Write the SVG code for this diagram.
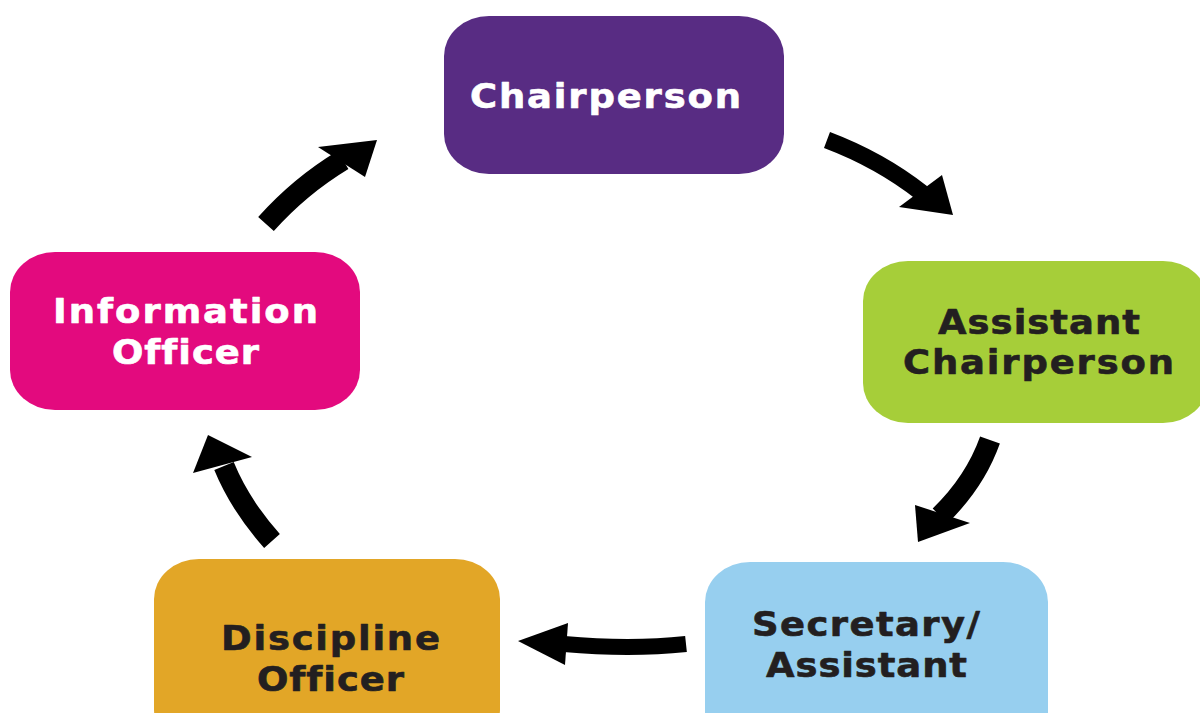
<svg xmlns="http://www.w3.org/2000/svg" width="1200" height="713" viewBox="0 0 1200 713">
  <style>
    .box { stroke: none; }
    .lbl { font-family: "DejaVu Sans", "Liberation Sans", sans-serif; font-weight: bold; font-size: 33px; text-anchor: middle; font-variant-ligatures: none; stroke-width: 0.6; stroke-linejoin: round; }
    .light { fill: #ffffff; stroke: #ffffff; }
    .dark { fill: #231f20; stroke: #231f20; }
    .shaft { fill: none; stroke: #000000; stroke-linecap: butt; }
    .head { fill: #000000; }
  </style>
  <rect width="1200" height="713" fill="#ffffff"/>

  <!-- labels are widened a little with scale(1.12,1); textLength is in the unscaled units -->
  <g id="chairperson">
    <rect class="box" x="444" y="16" width="340" height="158" rx="45" ry="40" fill="#582c83"/>
    <g transform="translate(605.5,108) scale(1.12,1)">
      <text class="lbl light" x="0" y="0" textLength="242" lengthAdjust="spacing">Chairperson</text>
    </g>
  </g>

  <g id="assistant-chairperson">
    <rect class="box" x="863" y="261" width="345" height="162" rx="45" ry="40" fill="#a6ce39"/>
    <g transform="translate(1039,334) scale(1.12,1)">
      <text class="lbl dark" x="0" y="0" textLength="180.4" lengthAdjust="spacing">Assistant</text>
    </g>
    <g transform="translate(1038.5,374) scale(1.12,1)">
      <text class="lbl dark" x="0" y="0" textLength="242" lengthAdjust="spacing">Chairperson</text>
    </g>
  </g>

  <g id="secretary-assistant">
    <rect class="box" x="705" y="562" width="343" height="190" rx="45" ry="40" fill="#97cfef"/>
    <g transform="translate(866,636) scale(1.12,1)">
      <text class="lbl dark" x="0" y="0" textLength="203.6" lengthAdjust="spacing">Secretary/</text>
    </g>
    <g transform="translate(866.5,677) scale(1.12,1)">
      <text class="lbl dark" x="0" y="0" textLength="179.5" lengthAdjust="spacing">Assistant</text>
    </g>
  </g>

  <g id="discipline-officer">
    <rect class="box" x="154" y="559" width="346" height="190" rx="45" ry="40" fill="#e2a627"/>
    <g transform="translate(330.5,650) scale(1.12,1)">
      <text class="lbl dark" x="0" y="0" textLength="195.5" lengthAdjust="spacing">Discipline</text>
    </g>
    <g transform="translate(330.5,691) scale(1.12,1)">
      <text class="lbl dark" x="0" y="0" textLength="131.3" lengthAdjust="spacing">Officer</text>
    </g>
  </g>

  <g id="information-officer">
    <rect class="box" x="10" y="252" width="350" height="158" rx="45" ry="40" fill="#e30a7e"/>
    <g transform="translate(185.5,323) scale(1.12,1)">
      <text class="lbl light" x="0" y="0" textLength="236.6" lengthAdjust="spacing">Information</text>
    </g>
    <g transform="translate(185.5,364) scale(1.12,1)">
      <text class="lbl light" x="0" y="0" textLength="131.3" lengthAdjust="spacing">Officer</text>
    </g>
  </g>

  <g id="connectors">
    <!-- Chairperson to Assistant Chairperson -->
    <path class="shaft" stroke-width="17" d="M827,140 Q880,160 922,193"/>
    <polygon class="head" points="942,175 953,215 899,207"/>
    <!-- Assistant Chairperson to Secretary/Assistant -->
    <path class="shaft" stroke-width="21" d="M990,440 Q975,482 940,516"/>
    <polygon class="head" points="915,505 970,523 918,542"/>
    <!-- Secretary/Assistant to Discipline Officer -->
    <path class="shaft" stroke-width="16" d="M686,644 Q630,650 564,644"/>
    <polygon class="head" points="568,623 565,665 518,641"/>
    <!-- Discipline Officer to Information Officer -->
    <path class="shaft" stroke-width="21" d="M272,541 Q240,505 224,466"/>
    <polygon class="head" points="193,473 208,435 252,457"/>
    <!-- Information Officer to Chairperson -->
    <path class="shaft" stroke-width="21" d="M266,224 Q300,186 343,160"/>
    <polygon class="head" points="318,147 377,140 365,177"/>
  </g>
</svg>
